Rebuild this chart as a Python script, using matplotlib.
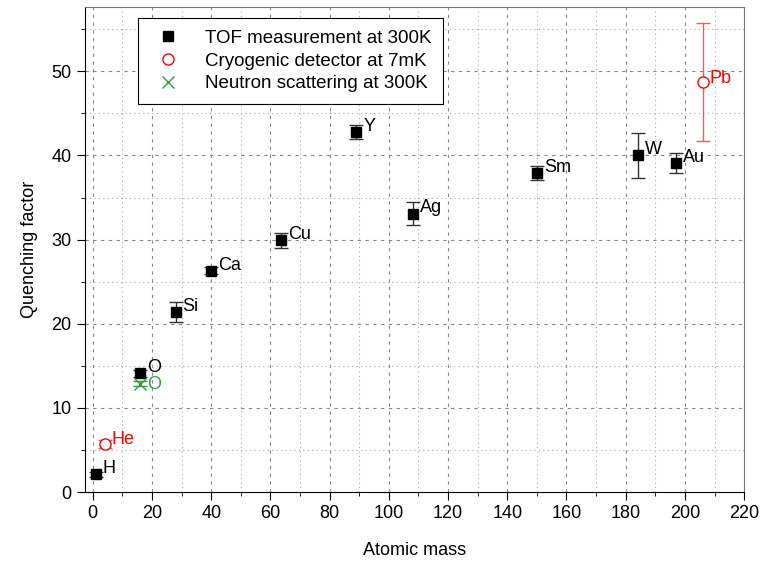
import matplotlib.pyplot as plt
from matplotlib.lines import Line2D
from matplotlib.ticker import MultipleLocator

plt.rcParams['font.family'] = ['Liberation Sans', 'DejaVu Sans']

# TOF measurement at 300K
tof_names = ['H', 'O', 'Si', 'Ca', 'Cu', 'Y', 'Ag', 'Sm', 'W', 'Au']
tof_mass = [1, 16, 28, 40, 63.5, 89, 108, 150, 184, 197]
tof_qf = [2.1, 14.1, 21.4, 26.3, 29.9, 42.8, 33.1, 37.9, 40.0, 39.1]
tof_err = [0.3, 0.4, 1.2, 0.4, 0.9, 0.8, 1.4, 0.8, 2.7, 1.2]

# Cryogenic detector at 7mK
cryo_names = ['He', 'Pb']
cryo_mass = [4, 206]
cryo_qf = [5.7, 48.7]
cryo_err = [0.5, 7.0]

# Neutron scattering at 300K
neu_names = ['O']
neu_mass = [16]
neu_qf = [12.9]
neu_err = [0.3]

green = '#2e9e3e'

fig = plt.figure(figsize=(7.64, 5.65), dpi=100)
ax = fig.add_axes([0.111, 0.129, 0.863, 0.858])

ax.errorbar(tof_mass, tof_qf, yerr=tof_err, fmt='s', color='black', ms=7,
            ecolor='#333333', elinewidth=1, capsize=5, capthick=1)
ax.errorbar(cryo_mass, cryo_qf, yerr=cryo_err, fmt='o', mfc='white', mec='red',
            ms=8, ecolor='#ff5555', elinewidth=1, capsize=5, capthick=1)
ax.errorbar(neu_mass, neu_qf, yerr=neu_err, fmt='x', color=green, ms=8,
            ecolor=green, elinewidth=1, capsize=5, capthick=1)

for n, x, y in zip(tof_names, tof_mass, tof_qf):
    ax.annotate(n, (x, y), xytext=(5, 4), textcoords='offset points',
                fontsize=13, color='black', va='center')
for n, x, y in zip(cryo_names, cryo_mass, cryo_qf):
    ax.annotate(n, (x, y), xytext=(5, 3), textcoords='offset points',
                fontsize=13, color='red', va='center')
for n, x, y in zip(neu_names, neu_mass, neu_qf):
    ax.annotate(n, (x, y), xytext=(5, -1), textcoords='offset points',
                fontsize=13, color=green, va='center')

ax.set_xlim(-2.7, 220)
ax.set_ylim(0, 57.6)
ax.xaxis.set_major_locator(MultipleLocator(20))
ax.xaxis.set_minor_locator(MultipleLocator(10))
ax.yaxis.set_major_locator(MultipleLocator(10))
ax.yaxis.set_minor_locator(MultipleLocator(5))
ax.tick_params(which='both', direction='out', labelsize=13)
ax.tick_params(which='major', length=6)
ax.tick_params(which='minor', length=3)
ax.grid(which='major', color='#888888', linestyle=(0, (3, 4)), linewidth=0.8)
ax.grid(which='minor', color='#aaaaaa', linestyle=(0, (1, 3)), linewidth=0.8)
ax.set_axisbelow(True)

for s in ['top', 'right']:
    ax.spines[s].set_color('#777777')

ax.set_xlabel('Atomic mass', fontsize=13, labelpad=14)
ax.set_ylabel('Quenching factor', fontsize=13, labelpad=10)

handles = [
    Line2D([], [], ls='none', marker='s', color='black', ms=7),
    Line2D([], [], ls='none', marker='o', mfc='white', mec='red', ms=8),
    Line2D([], [], ls='none', marker='x', color=green, ms=8),
]
labels = ['TOF measurement at 300K', 'Cryogenic detector at 7mK',
          'Neutron scattering at 300K']
leg = ax.legend(handles, labels, loc='upper left', bbox_to_anchor=(0.08, 0.977),
                borderaxespad=0, fontsize=13.5, fancybox=False, edgecolor='black',
                framealpha=1, handletextpad=1.0, borderpad=0.6, labelspacing=0.3)
leg.get_frame().set_linewidth(0.8)

fig.savefig('out.png', dpi=100)
